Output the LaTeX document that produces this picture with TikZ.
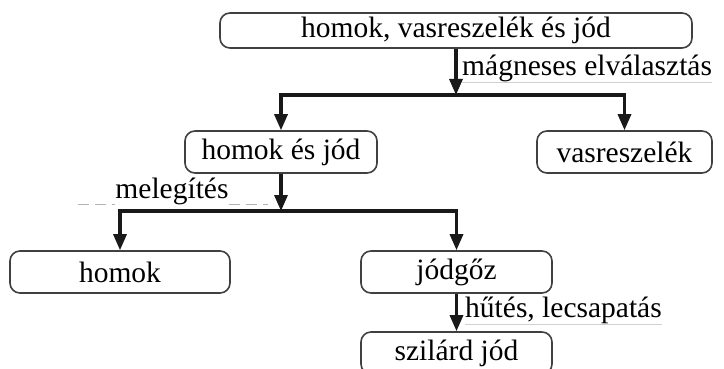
\documentclass[tikz,border=0pt]{standalone}
\usepackage{fontspec}
\setmainfont{Liberation Serif}
\usetikzlibrary{arrows.meta,calc}
\begin{document}
\begin{tikzpicture}[x=1pt,y=-1pt,
  box/.style={draw=black!75,line width=1.6pt,rounded corners=10pt,inner sep=0pt,
    font=\fontsize{29.5}{30}\selectfont},
  conn/.style={draw=black!90,line width=3.2pt},
  arr/.style={conn,-{Triangle[width=13pt,length=16pt]}},
  lbl/.style={font=\fontsize{29.5}{30}\selectfont,inner sep=0pt},
  ghost/.style={draw=black!30,line width=0.9pt,dash pattern=on 11pt off 6pt}]
\clip (0,0) rectangle (724,369);
\fill[white] (0,0) rectangle (724,369);
% boxes
\node[box,minimum width=472pt,minimum height=35pt] (top) at (456,30.5) {homok, vasreszelék és jód};
\node[box,minimum width=192pt,minimum height=42pt] (hj) at (281,152) {homok és jód};
\node[box,minimum width=175pt,minimum height=42pt] (vas) at (624.5,152) {vasreszelék};
\node[box,minimum width=220pt,minimum height=42pt] (homok) at (120,272) {homok};
\node[box,minimum width=191pt,minimum height=42pt] (jg) at (456.5,272) {jódgőz};
\node[box,minimum width=191pt,minimum height=42pt] (sz) at (456.5,353) {szilárd jód};
% junctions
\coordinate (j1) at (top.south |- 0,95);
\coordinate (j1l) at (hj.north |- j1);
\coordinate (j1r) at (vas.north |- j1);
\coordinate (j2) at (hj.south |- 0,211);
\coordinate (j2l) at (homok.north |- j2);
\coordinate (j2r) at (jg.north |- j2);
% connectors
\draw[arr] (top.south) -- (j1);
\draw[conn,line cap=rect] (j1l) -- (j1r);
\draw[arr] (j1l) -- (hj.north);
\draw[arr] (j1r) -- (vas.north);
\draw[arr] (hj.south) -- (j2);
\draw[conn,line cap=rect] (j2l) -- (j2r);
\draw[arr] (j2l) -- (homok.north);
\draw[arr] (j2r) -- (jg.north);
\draw[arr] (jg.south) -- (sz.north);
% labels
\node[lbl,anchor=west] (l1) at (462,68) {mágneses elválasztás};
\node[lbl] (l2) at (172,191) {melegítés};
\node[lbl,anchor=west] (l3) at (465,310) {hűtés, lecsapatás};
% faint underlines
\draw[black!18,line width=0.8pt] (l1.south west) ++(0,1) -- ($(l1.south east)+(0,1)$);
\draw[ghost] (78,204) -- (l2.south west |- 0,204);
\draw[ghost] (l2.south east |- 0,204) -- (268,204);
\draw[black!18,line width=0.8pt] (l3.south west) ++(0,1) -- ($(l3.south east)+(0,1)$);
\end{tikzpicture}
\end{document}
